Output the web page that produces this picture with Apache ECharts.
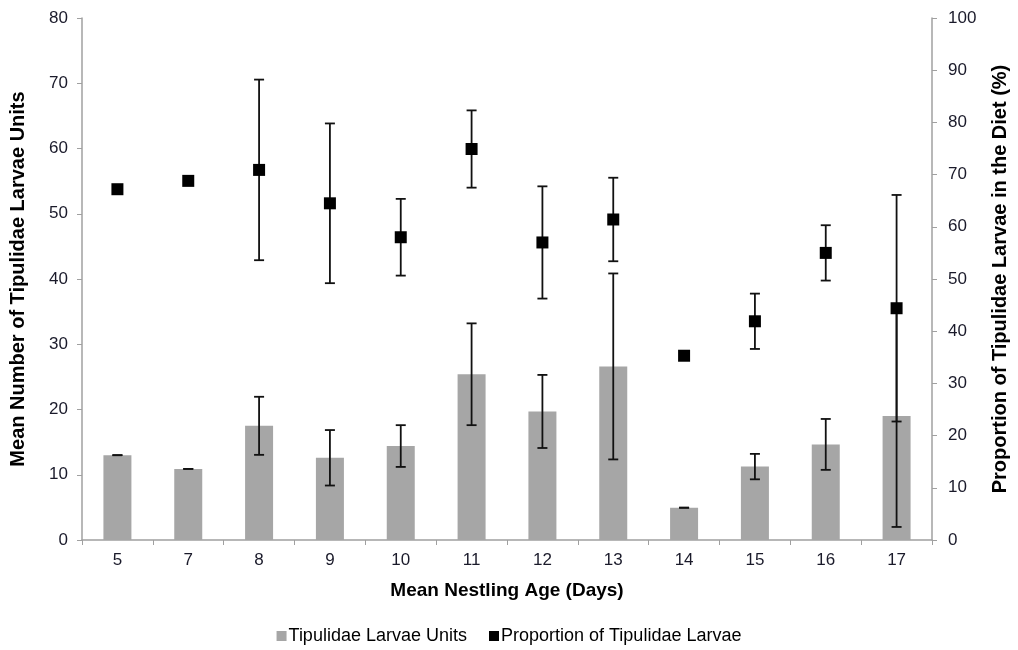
<!DOCTYPE html>
<html>
<head>
<meta charset="utf-8">
<script src="https://cdn.jsdelivr.net/npm/echarts@6/dist/echarts.min.js"></script>
<style>
  html, body { margin: 0; padding: 0; background: #fff; }
  #chart { width: 1018px; height: 650px; }
</style>
</head>
<body>
<div id="chart"></div>
<script>
// Mean nestling age (days)
const categories = ['5', '7', '8', '9', '10', '11', '12', '13', '14', '15', '16', '17'];
// Mean number of Tipulidae larvae units (left axis) and error
const unitsMean = [13.0, 10.9, 17.5, 12.6, 14.4, 25.4, 19.7, 26.6, 4.95, 11.25, 14.65, 19.0];
const unitsErr  = [0, 0, 4.45, 4.25, 3.2, 7.8, 5.6, 14.25, 0, 1.95, 3.9, 17.0];
// Proportion of Tipulidae larvae in the diet, % (right axis) and error
const propMean = [67.2, 68.8, 70.9, 64.5, 58.0, 74.9, 57.0, 61.4, 35.3, 41.9, 55.0, 44.4];
const propErr  = [0, 0, 17.3, 15.3, 7.35, 7.4, 10.75, 8.0, 0, 5.3, 5.3, 21.7];

const leftTicks = { min: 0, max: 80, interval: 10 };
const rightTicks = { min: 0, max: 100, interval: 10 };

const unitsErrData = unitsMean.map((v, i) => [i, v - unitsErr[i], v + unitsErr[i]]);
const propErrData = propMean.map((v, i) => [i, v - propErr[i], v + propErr[i]]);

function errRender(params, api) {
  const x = api.value(0);
  const lo = api.coord([x, api.value(1)]);
  const hi = api.coord([x, api.value(2)]);
  const hw = 5;
  const style = { stroke: '#111', lineWidth: 1.8 };
  return {
    type: 'group',
    children: [
      { type: 'line', shape: { x1: lo[0], y1: lo[1], x2: hi[0], y2: hi[1] }, style },
      { type: 'line', shape: { x1: lo[0] - hw, y1: lo[1], x2: lo[0] + hw, y2: lo[1] }, style },
      { type: 'line', shape: { x1: hi[0] - hw, y1: hi[1], x2: hi[0] + hw, y2: hi[1] }, style }
    ]
  };
}

const axisGray = '#a0a0a0';
const labelColor = '#1a1a2a';
const font = 'Liberation Sans, Arial, sans-serif';

const chart = echarts.init(document.getElementById('chart'));
chart.setOption({
  animation: false,
  textStyle: { fontFamily: font },
  grid: { left: 82, right: 85, top: 18, bottom: 110 },
  legend: {
    data: [
      { name: 'Tipulidae Larvae Units', icon: 'rect', itemStyle: { color: '#a6a6a6' } },
      { name: 'Proportion of Tipulidae Larvae', icon: 'rect', itemStyle: { color: '#000' } }
    ],
    bottom: 0,
    left: 'center',
    itemWidth: 10,
    itemHeight: 10,
    itemGap: 22,
    textStyle: { fontSize: 18, color: '#000', fontFamily: font, padding: [0, 0, 0, -3] }
  },
  xAxis: {
    type: 'category',
    data: categories,
    boundaryGap: true,
    name: 'Mean Nestling Age (Days)',
    nameLocation: 'middle',
    nameGap: 41,
    nameTextStyle: { fontSize: 19, fontWeight: 'bold', color: '#000' },
    axisLine: { lineStyle: { color: axisGray, width: 1.5 } },
    axisTick: { show: true, inside: false, length: 5, lineStyle: { color: axisGray } },
    axisLabel: { fontSize: 17, color: labelColor, margin: 12 },
    splitLine: { show: false }
  },
  yAxis: [
    {
      type: 'value',
      min: leftTicks.min, max: leftTicks.max, interval: leftTicks.interval,
      position: 'left',
      name: 'Mean Number of Tipulidae Larvae Units',
      nameLocation: 'middle',
      nameGap: 54,
      nameRotate: 90,
      nameTextStyle: { fontSize: 20, fontWeight: 'bold', color: '#000' },
      axisLine: { show: true, lineStyle: { color: axisGray, width: 1.5 } },
      axisTick: { show: true, inside: false, length: 5, lineStyle: { color: axisGray } },
      axisLabel: { fontSize: 17, color: labelColor, margin: 14 },
      splitLine: { show: false }
    },
    {
      type: 'value',
      min: rightTicks.min, max: rightTicks.max, interval: rightTicks.interval,
      position: 'right',
      name: 'Proportion of Tipulidae Larvae in the Diet (%)',
      nameLocation: 'middle',
      nameGap: 58,
      nameRotate: 90,
      nameTextStyle: { fontSize: 20, fontWeight: 'bold', color: '#000' },
      axisLine: { show: true, lineStyle: { color: axisGray, width: 1.5 } },
      axisTick: { show: true, inside: false, length: 5, lineStyle: { color: axisGray } },
      axisLabel: { fontSize: 17, color: labelColor, margin: 16 },
      splitLine: { show: false }
    }
  ],
  series: [
    {
      name: 'Tipulidae Larvae Units',
      type: 'bar',
      yAxisIndex: 0,
      data: unitsMean,
      barWidth: 28,
      itemStyle: { color: '#a6a6a6' },
      z: 1
    },
    {
      name: 'unitsErr',
      type: 'custom',
      yAxisIndex: 0,
      data: unitsErrData,
      renderItem: errRender,
      encode: { x: 0, y: [1, 2] },
      z: 3
    },
    {
      name: 'propErr',
      type: 'custom',
      yAxisIndex: 1,
      data: propErrData,
      renderItem: errRender,
      encode: { x: 0, y: [1, 2] },
      z: 3
    },
    {
      name: 'Proportion of Tipulidae Larvae',
      type: 'scatter',
      yAxisIndex: 1,
      data: propMean,
      symbol: 'rect',
      symbolSize: 12,
      itemStyle: { color: '#000', opacity: 1 },
      z: 5
    }
  ]
});
</script>
</body>
</html>
